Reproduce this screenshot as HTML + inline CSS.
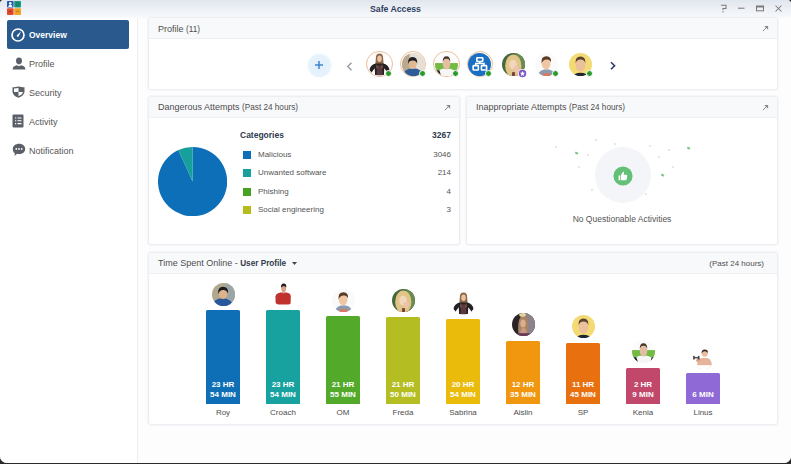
<!DOCTYPE html>
<html><head><meta charset="utf-8">
<style>
*{margin:0;padding:0;box-sizing:border-box}
html,body{width:791px;height:464px;overflow:hidden;background:#2a2a2a}
body{font-family:"Liberation Sans",sans-serif;position:relative}
.win{position:absolute;left:0;top:0;width:791px;height:463px;background:#fff;border-radius:4px 4px 7px 7px;overflow:hidden}
.title{position:absolute;left:0;top:0;width:791px;height:18px;background:linear-gradient(#e1e6ee,#f9fafc)}
.title .t{position:absolute;left:0;width:791px;top:3.5px;text-align:center;font-size:8.7px;font-weight:bold;color:#2e3e5f}
.abs{position:absolute}
.side{position:absolute;left:0;top:18px;width:138px;height:446px;background:#fff;border-right:1px solid #eceef1}
.nav{position:absolute;left:7px;width:122px;height:29px;border-radius:2px;font-size:9px;color:#555}
.nav.sel{background:#2a598d;color:#fff;font-weight:bold}
.nav .lbl{position:absolute;left:22px;top:10px}
.content{position:absolute;left:138px;top:18px;width:653px;height:446px;background:#fdfdfe}
.panel{position:absolute;background:#fff;border:1px solid #eceef1;border-radius:3px;overflow:hidden;box-shadow:0 0 1px 1px #f5f6f8}
.ph{position:absolute;left:0;top:0;right:0;height:21px;background:#f8f9fb;border-bottom:1px solid #edeff2;font-size:9px;color:#4e4e4e}
.ph .h{position:absolute;left:9px;top:5px;white-space:nowrap}
.ph .h small{font-size:8.2px}
.exp{position:absolute;right:8px;top:7px;width:7px;height:7px}
.tx{position:absolute;white-space:nowrap}
.r{text-align:right}
</style></head><body>
<div class="win">
<div class="title">
<svg class="abs" style="left:7px;top:1px" width="14" height="14" viewBox="0 0 14 14">
<rect x="0" y="0" width="6.6" height="6.6" rx="0.8" fill="#2159a9"/><rect x="7.2" y="0" width="6.8" height="6.6" rx="0.8" fill="#189a7e"/>
<rect x="0" y="7.2" width="6.6" height="6.8" rx="0.8" fill="#e2492b"/><rect x="7.2" y="7.2" width="6.8" height="6.8" rx="0.8" fill="#f0a325"/>
<circle cx="3.3" cy="2.4" r="1.3" fill="#fff"/><path d="M1.2 6 Q1.4 3.8 3.3 3.8 Q5.2 3.8 5.4 6Z" fill="#fff"/>
<circle cx="10.6" cy="3.3" r="1.6" fill="none" stroke="#0f6a52" stroke-width="0.8"/>
<path d="M1.8 10.6 H4.8" stroke="#a83018" stroke-width="1"/>
<path d="M9 11 Q10.6 9 12.2 11" fill="none" stroke="#b0701a" stroke-width="0.9"/>
</svg>
<div class="t">Safe Access</div>
<svg class="abs" style="left:718px;top:3px" width="68" height="12" viewBox="0 0 68 12" stroke="#7a7a7a" stroke-width="1.05" fill="none">
<path d="M3 2.3 H8 V5.5 H5 V7.2"/><path d="M5 8.2 V9.4"/>
<path d="M20 5.2 H26.5"/>
<rect x="38.5" y="3" width="7" height="4.8"/><path d="M38.5 3.8 H45.5" stroke-width="1.4"/>
<path d="M57.5 2.5 L63.5 8.5 M63.5 2.5 L57.5 8.5"/>
</svg></div>
<div class="side">
<div class="nav sel" style="top:2px">
<svg class="abs" style="left:4.3px;top:7.6px" width="14" height="14" viewBox="0 0 14 14">
<circle cx="7" cy="7" r="6" fill="none" stroke="#fff" stroke-width="1.7"/>
<path d="M10 3.6 L7.6 8.4 Q6.6 9.2 5.9 8.4 Q5.5 7.5 6.4 6.8Z" fill="#fff"/></svg>
<span class="lbl" style="top:10px;font-size:8.5px">Overview</span></div>
<div class="nav" style="top:31px">
<svg class="abs" style="left:5px;top:8px" width="14" height="13" viewBox="0 0 14 13">
<path d="M7 0.5 C4.8 0.5 4 2 4 3.8 C4 5.8 5 7.4 7 7.4 C9 7.4 10 5.8 10 3.8 C10 2 9.2 0.5 7 0.5Z M0.6 12.6 C0.6 9.8 2.5 8.7 5 8.3 L7 9.3 L9 8.3 C11.5 8.7 13.4 9.8 13.4 12.6Z" fill="#5b6068"/></svg>
<span class="lbl">Profile</span></div>
<div class="nav" style="top:60px">
<svg class="abs" style="left:5px;top:8px" width="13" height="12" viewBox="0 0 13 12">
<path d="M0.5 1.2 C3 1.2 4.5 0.4 6.5 0.4 C8.5 0.4 10 1.2 12.5 1.2 L12.5 5.5 C12.5 8.5 9.5 10.8 6.5 11.8 C3.5 10.8 0.5 8.5 0.5 5.5Z" fill="#5b6068"/>
<path d="M2 2.5 L6.5 2 L6.5 6 L2 6Z M6.5 6 L11 6 C10.8 7.8 9 9.2 6.5 10.2Z" fill="#fff"/></svg>
<span class="lbl">Security</span></div>
<div class="nav" style="top:89px">
<svg class="abs" style="left:5px;top:7px" width="12" height="14" viewBox="0 0 12 14">
<rect x="0.5" y="0.5" width="11" height="13" rx="1" fill="#5b6068"/>
<path d="M3 4 H4.2 M5.5 4 H9.5 M3 6.8 H4.2 M5.5 6.8 H9.5 M3 9.6 H4.2 M5.5 9.6 H9.5" stroke="#fff" stroke-width="1.1"/></svg>
<span class="lbl">Activity</span></div>
<div class="nav" style="top:118px">
<svg class="abs" style="left:5px;top:7px" width="14" height="14" viewBox="0 0 14 14">
<path d="M7 0.8 C10.5 0.8 13.2 3 13.2 5.9 C13.2 8.8 10.5 11 7 11 C6.3 11 5.6 10.9 5 10.8 L2.6 13 L2.8 10.2 C1.5 9.3 0.8 7.7 0.8 5.9 C0.8 3 3.5 0.8 7 0.8Z" fill="#5b6068"/>
<circle cx="4.3" cy="5.9" r="0.9" fill="#fff"/><circle cx="7" cy="5.9" r="0.9" fill="#fff"/><circle cx="9.7" cy="5.9" r="0.9" fill="#fff"/></svg>
<span class="lbl">Notification</span></div>
</div>
<div class="content"></div>
<div class="panel" style="left:148px;top:17px;width:630px;height:73px"><div class="ph"><span class="h" style="top:6px">Profile <small>(11)</small></span><svg class="exp" viewBox="0 0 8 8"><path d="M1 7 L6.5 1.5" stroke="#888" stroke-width="1.1"/><path d="M2.5 1 H7 V5.5Z" fill="#888"/></svg></div></div>
<div class="abs" style="left:307.5px;top:53.5px;width:23px;height:23px;border-radius:50%;background:radial-gradient(circle,#e2effb 0,#e6f2fc 60%,#eef6fd 100%);box-shadow:0 0 1.5px 0.5px #f0f7fd"></div>
<svg class="abs" style="left:315px;top:61px" width="8" height="8" viewBox="0 0 8 8"><path d="M4 0 V8 M0 4 H8" stroke="#3f86cf" stroke-width="1.5"/></svg>
<svg class="abs" style="left:345.5px;top:61.5px" width="7" height="9" viewBox="0 0 7 9"><path d="M5.5 0.8 L1.8 4.5 L5.5 8.2" fill="none" stroke="#9a9ea5" stroke-width="1.5"/></svg>
<svg class="abs" style="left:609px;top:60.5px" width="8" height="10" viewBox="0 0 8 10"><path d="M2 1.3 L5.6 4.8 L2 8.3" fill="none" stroke="#2c3a66" stroke-width="1.6"/></svg>
<div class="abs" style="left:366.0px;top:50.900000000000006px;width:26.6px;height:26.6px;border-radius:50%;border:1px solid #ecbf9c"></div>
<svg class="abs" style="left:367.8px;top:52.7px" width="23" height="23" viewBox="0 0 24 24"><defs><clipPath id="c1"><circle cx="12" cy="12" r="12"/></clipPath></defs><g clip-path="url(#c1)"><rect width="24" height="24" fill="#fff"/>
<path d="M8.2 5.5 Q8 0.6 12 0.6 Q16 0.6 15.8 5.5 L16.6 15 Q12 16.5 7.4 15Z" fill="#8e6646"/>
<ellipse cx="12" cy="6" rx="2.4" ry="3.3" fill="#e8c3a3"/>
<path d="M1.5 17.5 Q3 12 8 11 L16 11 Q21 12 22.5 17.5 L20.5 20.5 L17 16 L16.6 23 L7.4 23 L7 16 L3.5 20.5Z" fill="#252022"/>
<path d="M9.6 12 Q12 14 14.4 12 L15.2 23.2 L8.8 23.2Z" fill="#5a3840"/>
<path d="M9 11.5 L10.3 16 L8.6 16Z M15 11.5 L13.7 16 L15.4 16Z" fill="#8e6646"/></g></svg>
<div class="abs" style="left:384.8px;top:69.5px;width:7px;height:7px;border-radius:50%;background:#2a9a2c;border:1.3px solid #fff"></div>
<div class="abs" style="left:399.8px;top:50.900000000000006px;width:26.6px;height:26.6px;border-radius:50%;border:1px solid #ecbf9c"></div>
<svg class="abs" style="left:401.6px;top:52.7px" width="23" height="23" viewBox="0 0 24 24"><defs><clipPath id="c2"><circle cx="12" cy="12" r="12"/></clipPath></defs><g clip-path="url(#c2)"><rect width="24" height="24" fill="#e6dfd4"/>
<rect x="0" y="0" width="8" height="24" fill="#b8a890"/>
<ellipse cx="11.5" cy="24" rx="11" ry="8" fill="#2e5c98"/>
<ellipse cx="11" cy="11.8" rx="4.2" ry="5" fill="#e2b892"/>
<path d="M6.4 12 Q5.6 4.5 11 4.3 Q16.6 4.5 15.8 11.5 Q15 7.5 11 7.8 Q7 7.8 6.4 12Z" fill="#1c1c22"/></g></svg>
<div class="abs" style="left:418.6px;top:69.5px;width:7px;height:7px;border-radius:50%;background:#2a9a2c;border:1.3px solid #fff"></div>
<div class="abs" style="left:433.2px;top:50.900000000000006px;width:26.6px;height:26.6px;border-radius:50%;border:1px solid #ecbf9c"></div>
<svg class="abs" style="left:435.0px;top:52.7px" width="23" height="23" viewBox="0 0 24 24"><defs><clipPath id="c3"><circle cx="12" cy="12" r="12"/></clipPath></defs><g clip-path="url(#c3)"><rect width="24" height="24" fill="#fbfbfb"/>
<rect x="0" y="10.5" width="24" height="7.5" fill="#74bb45"/>
<path d="M2 24 Q3 17.5 8 16.5 L16 16.5 Q21 17.5 22 24Z" fill="#f6f6f6"/>
<path d="M0 18 L4.5 18 L6.5 24 L0 24Z M24 18 L20.5 18 L19 24 L24 24Z" fill="#1e1e1e"/>
<ellipse cx="12" cy="11.5" rx="3.9" ry="5.6" fill="#e5bea2"/>
<path d="M8.1 9.5 Q7.9 3.4 12 3.4 Q16.1 3.4 15.9 9.5 Q15 6 12 6 Q9 6 8.1 9.5Z" fill="#4b3628"/></g></svg>
<div class="abs" style="left:452.0px;top:69.5px;width:7px;height:7px;border-radius:50%;background:#2a9a2c;border:1.3px solid #fff"></div>
<div class="abs" style="left:466.5px;top:50.900000000000006px;width:26.6px;height:26.6px;border-radius:50%;border:1px solid #ecbf9c"></div>
<svg class="abs" style="left:468.3px;top:52.7px" width="23" height="23" viewBox="0 0 24 24"><defs><clipPath id="c4"><circle cx="12" cy="12" r="12"/></clipPath></defs><g clip-path="url(#c4)"><rect width="24" height="24" fill="#1b6fc3"/>
<g fill="none" stroke="#fff" stroke-width="1.7">
<rect x="9.2" y="4.9" width="6.2" height="4" rx="0.7"/>
<rect x="5.4" y="13.2" width="5.4" height="4.6" rx="0.7"/>
<rect x="14" y="13.2" width="5.4" height="4.6" rx="0.7"/>
<path d="M12.3 8.9 V11 M8.1 13.2 V11 H16.7 V13.2"/></g></g></svg>
<div class="abs" style="left:485.3px;top:69.5px;width:7px;height:7px;border-radius:50%;background:#2a9a2c;border:1.3px solid #fff"></div>
<svg class="abs" style="left:501.9px;top:52.7px" width="23" height="23" viewBox="0 0 24 24"><defs><clipPath id="c5"><circle cx="12" cy="12" r="12"/></clipPath></defs><g clip-path="url(#c5)"><rect width="24" height="24" fill="#46683a"/>
<rect x="15" y="0" width="9" height="24" fill="#6a8a50"/>
<ellipse cx="11.8" cy="13.5" rx="8.5" ry="12" fill="#e0c488"/>
<ellipse cx="11.5" cy="12" rx="4" ry="5" fill="#f2d6bb"/>
<ellipse cx="14.8" cy="16.5" rx="2.8" ry="3.4" fill="#ecc4ae"/>
<rect x="10.5" y="20" width="3" height="4" fill="#7a3a3a"/></g></svg>
<svg class="abs" style="left:517.9px;top:68.7px" width="9" height="9" viewBox="0 0 9 9"><circle cx="4.5" cy="4.5" r="4.1" fill="#7a55c8" stroke="#fff" stroke-width="0.8"/><path d="M4.5 1.9 L5.3 3.7 L7.1 3.8 L5.7 5 L6.2 6.9 L4.5 5.9 L2.8 6.9 L3.3 5 L1.9 3.8 L3.7 3.7Z" fill="#fff"/></svg>
<svg class="abs" style="left:534.8px;top:53.0px" width="23" height="23" viewBox="0 0 24 24"><defs><clipPath id="c6"><circle cx="12" cy="12" r="12"/></clipPath></defs><g clip-path="url(#c6)"><rect width="24" height="24" fill="#fafafb"/>
<path d="M3 24 Q4 17 12 17 Q20 17 21 24Z" fill="#8c9ab0"/>
<path d="M8 21 L16 21 L16 24 L8 24Z" fill="#d97860"/>
<ellipse cx="11.6" cy="11.5" rx="4.5" ry="5.6" fill="#efc6a4"/>
<path d="M6.8 11 Q6 3.5 12 3.4 Q17.5 3.5 16.6 10 Q15.5 6.5 12 6.8 Q8.5 6.8 6.8 11Z" fill="#5a3a22"/></g></svg>
<div class="abs" style="left:551.8px;top:69.8px;width:7px;height:7px;border-radius:50%;background:#2a9a2c;border:1.3px solid #fff"></div>
<svg class="abs" style="left:568.9px;top:52.900000000000006px" width="23" height="23" viewBox="0 0 24 24"><defs><clipPath id="c7"><circle cx="12" cy="12" r="12"/></clipPath></defs><g clip-path="url(#c7)"><rect width="24" height="24" fill="#f3da74"/>
<ellipse cx="12" cy="25" rx="8" ry="4.5" fill="#1f2634"/>
<ellipse cx="12" cy="12.5" rx="5" ry="6.8" fill="#ebc09c"/>
<path d="M6.8 11 Q6.3 3.5 12 3.6 Q17.5 3.5 17.2 11 Q16 6.8 12 6.8 Q8 6.8 6.8 11Z" fill="#5b4232"/></g></svg>
<div class="abs" style="left:585.9px;top:69.7px;width:7px;height:7px;border-radius:50%;background:#2a9a2c;border:1.3px solid #fff"></div>
<div class="panel" style="left:148px;top:96px;width:312px;height:149px"><div class="ph"><span class="h">Dangerous Attempts <small>(Past 24 hours)</small></span><svg class="exp" viewBox="0 0 8 8"><path d="M1 7 L6.5 1.5" stroke="#888" stroke-width="1.1"/><path d="M2.5 1 H7 V5.5Z" fill="#888"/></svg></div></div>
<svg class="abs" style="left:158.1px;top:146.8px" width="69.2" height="69.2" viewBox="0 0 69.2 69.2"><path d="M34.6 34.6 L34.600 0.000 A34.6 34.6 0 1 1 20.333 3.079Z" fill="#0c6fb8"/><path d="M34.6 34.6 L20.333 3.079 A34.6 34.6 0 0 1 34.600 0.000Z" fill="#17a09b"/></svg>
<div class="tx" style="left:240px;top:130px;font-size:8.5px;font-weight:bold;color:#303b50">Categories</div>
<div class="tx r" style="left:400px;width:51px;top:130px;font-size:8.5px;font-weight:bold;color:#303b50">3267</div>
<div class="abs" style="left:243px;top:151.0px;width:8px;height:8px;background:#0c6fb8"></div>
<div class="tx" style="left:258px;top:150.0px;font-size:8px;color:#555">Malicious</div>
<div class="tx r" style="left:400px;width:51px;top:150.0px;font-size:8px;color:#555">3046</div>
<div class="abs" style="left:243px;top:169.4px;width:8px;height:8px;background:#17a09b"></div>
<div class="tx" style="left:258px;top:168.4px;font-size:8px;color:#555">Unwanted software</div>
<div class="tx r" style="left:400px;width:51px;top:168.4px;font-size:8px;color:#555">214</div>
<div class="abs" style="left:243px;top:187.8px;width:8px;height:8px;background:#46a322"></div>
<div class="tx" style="left:258px;top:186.8px;font-size:8px;color:#555">Phishing</div>
<div class="tx r" style="left:400px;width:51px;top:186.8px;font-size:8px;color:#555">4</div>
<div class="abs" style="left:243px;top:206.2px;width:8px;height:8px;background:#b6bc1c"></div>
<div class="tx" style="left:258px;top:205.2px;font-size:8px;color:#555">Social engineering</div>
<div class="tx r" style="left:400px;width:51px;top:205.2px;font-size:8px;color:#555">3</div>
<div class="panel" style="left:466px;top:96px;width:312px;height:149px"><div class="ph"><span class="h">Inappropriate Attempts <small>(Past 24 hours)</small></span><svg class="exp" viewBox="0 0 8 8"><path d="M1 7 L6.5 1.5" stroke="#888" stroke-width="1.1"/><path d="M2.5 1 H7 V5.5Z" fill="#888"/></svg></div></div>
<div class="abs" style="left:594.5px;top:147px;width:56px;height:56px;border-radius:50%;background:#f4f5f8"></div>
<svg class="abs" style="left:612.5px;top:166px" width="20" height="20" viewBox="0 0 20 20"><circle cx="10" cy="10" r="9.6" fill="#63c076"/>
<path d="M5.6 9.4 H7.1 V14.2 H5.6Z M7.8 9.4 L9.9 5.8 Q11 5.4 11.1 6.6 L10.7 8.8 H13.6 Q14.5 9 14.3 9.9 L13.6 13.4 Q13.3 14.2 12.5 14.2 H7.8Z" fill="#fff"/></svg>
<div class="abs" style="left:574.8px;top:151.60000000000002px;width:3px;height:2.4px;background:#79c488;transform:rotate(30deg)"></div>
<div class="abs" style="left:686.9px;top:147.3px;width:3px;height:2.4px;background:#79c488;transform:rotate(30deg)"></div>
<div class="abs" style="left:660.7px;top:173.8px;width:3px;height:2.4px;background:#79c488;transform:rotate(30deg)"></div>
<div class="abs" style="left:555px;top:146px;width:2px;height:2px;background:#e6e7ea"></div>
<div class="abs" style="left:595px;top:139px;width:2px;height:2px;background:#e6e7ea"></div>
<div class="abs" style="left:614px;top:143.4px;width:2px;height:2px;background:#e6e7ea"></div>
<div class="abs" style="left:586.6px;top:154px;width:2px;height:2px;background:#e6e7ea"></div>
<div class="abs" style="left:578px;top:165.6px;width:2px;height:2px;background:#e6e7ea"></div>
<div class="abs" style="left:649px;top:144.6px;width:2px;height:2px;background:#e6e7ea"></div>
<div class="abs" style="left:668px;top:149px;width:2px;height:2px;background:#e6e7ea"></div>
<div class="abs" style="left:657.7px;top:156px;width:2px;height:2px;background:#e6e7ea"></div>
<div class="abs" style="left:672px;top:165.6px;width:2px;height:2px;background:#e6e7ea"></div>
<div class="abs" style="left:590.8px;top:189px;width:2px;height:2px;background:#e6e7ea"></div>
<div class="abs" style="left:645px;top:192.8px;width:2px;height:2px;background:#e6e7ea"></div>
<div class="tx" style="left:522px;width:200px;text-align:center;top:213.5px;font-size:8.5px;color:#555">No Questionable Activities</div>
<div class="panel" style="left:148px;top:252px;width:630px;height:173px"><div class="ph"><span class="h">Time Spent Online - <b style="color:#333c4c;font-size:8.2px">User Profile</b></span><svg class="abs" style="left:143px;top:9px" width="5" height="4" viewBox="0 0 5 4"><path d="M0 0 H5 L2.5 3Z" fill="#444"/></svg><span class="abs" style="right:13px;top:6px;font-size:8px">(Past 24 hours)</span></div></div>
<div class="abs" style="left:206px;top:310px;width:34px;height:94px;background:#0f6fb6;border-radius:1.5px 1.5px 0 0"></div>
<div class="tx" style="left:193px;width:60px;text-align:center;top:380px;font-size:8px;font-weight:bold;color:#fff">23 HR</div>
<div class="tx" style="left:193px;width:60px;text-align:center;top:390px;font-size:8px;font-weight:bold;color:#fff">54 MIN</div>
<div class="tx" style="left:193px;width:60px;text-align:center;top:408px;font-size:8px;color:#4d4d4d">Roy</div>
<svg class="abs" style="left:211.9px;top:282.5px" width="23" height="23" viewBox="0 0 24 24"><defs><clipPath id="c8"><circle cx="12" cy="12" r="12"/></clipPath></defs><g clip-path="url(#c8)"><rect width="24" height="24" fill="#b2a88e"/>
<rect x="14" y="0" width="10" height="24" fill="#9aa6a4"/>
<ellipse cx="11" cy="24" rx="11" ry="8" fill="#28589c"/>
<ellipse cx="11.5" cy="11.5" rx="4.5" ry="5.3" fill="#dfb28c"/>
<path d="M6.5 12 Q5.5 4 11.5 4 Q17.5 4 16.5 11 Q15.5 7 11.5 7.2 Q7.5 7.2 6.5 12Z" fill="#1b1b20"/></g></svg>
<div class="abs" style="left:266px;top:310px;width:34px;height:94px;background:#17a19f;border-radius:1.5px 1.5px 0 0"></div>
<div class="tx" style="left:253px;width:60px;text-align:center;top:380px;font-size:8px;font-weight:bold;color:#fff">23 HR</div>
<div class="tx" style="left:253px;width:60px;text-align:center;top:390px;font-size:8px;font-weight:bold;color:#fff">54 MIN</div>
<div class="tx" style="left:253px;width:60px;text-align:center;top:408px;font-size:8px;color:#4d4d4d">Croach</div>
<svg class="abs" style="left:271.9px;top:282.5px" width="23" height="23" viewBox="0 0 24 24"><defs><clipPath id="c9"><circle cx="12" cy="12" r="12"/></clipPath></defs><g clip-path="url(#c9)"><rect width="24" height="24" fill="#fff"/>
<path d="M3.6 14 Q4.5 10.5 9 10 L15 10 Q19.5 10.5 19.6 14 L19.4 22.5 L3.8 22.5Z" fill="#c0322e"/>
<path d="M10 10 Q12 12 14 10Z" fill="#d89c82"/>
<ellipse cx="12.2" cy="5.6" rx="2.6" ry="4" fill="#d6a386"/>
<path d="M9.4 5 Q9.2 0.6 12.3 0.6 Q15.2 0.6 15 4.8 Q14 3.2 12.3 3.2 Q10.6 3.2 9.4 5Z" fill="#231a1a"/></g></svg>
<div class="abs" style="left:326px;top:316px;width:34px;height:88px;background:#53a929;border-radius:1.5px 1.5px 0 0"></div>
<div class="tx" style="left:313px;width:60px;text-align:center;top:380px;font-size:8px;font-weight:bold;color:#fff">21 HR</div>
<div class="tx" style="left:313px;width:60px;text-align:center;top:390px;font-size:8px;font-weight:bold;color:#fff">55 MIN</div>
<div class="tx" style="left:313px;width:60px;text-align:center;top:408px;font-size:8px;color:#4d4d4d">OM</div>
<svg class="abs" style="left:331.9px;top:288.5px" width="23" height="23" viewBox="0 0 24 24"><defs><clipPath id="c10"><circle cx="12" cy="12" r="12"/></clipPath></defs><g clip-path="url(#c10)"><rect width="24" height="24" fill="#fafafb"/>
<path d="M3 24 Q4 17 12 17 Q20 17 21 24Z" fill="#8c9ab0"/>
<path d="M8 21 L16 21 L16 24 L8 24Z" fill="#d97860"/>
<ellipse cx="11.6" cy="11.5" rx="4.5" ry="5.6" fill="#efc6a4"/>
<path d="M6.8 11 Q6 3.5 12 3.4 Q17.5 3.5 16.6 10 Q15.5 6.5 12 6.8 Q8.5 6.8 6.8 11Z" fill="#5a3a22"/></g></svg>
<div class="abs" style="left:386px;top:316.5px;width:34px;height:87.5px;background:#b4be22;border-radius:1.5px 1.5px 0 0"></div>
<div class="tx" style="left:373px;width:60px;text-align:center;top:380px;font-size:8px;font-weight:bold;color:#fff">21 HR</div>
<div class="tx" style="left:373px;width:60px;text-align:center;top:390px;font-size:8px;font-weight:bold;color:#fff">50 MIN</div>
<div class="tx" style="left:373px;width:60px;text-align:center;top:408px;font-size:8px;color:#4d4d4d">Freda</div>
<svg class="abs" style="left:391.9px;top:289.0px" width="23" height="23" viewBox="0 0 24 24"><defs><clipPath id="c11"><circle cx="12" cy="12" r="12"/></clipPath></defs><g clip-path="url(#c11)"><rect width="24" height="24" fill="#46683a"/>
<rect x="15" y="0" width="9" height="24" fill="#6a8a50"/>
<ellipse cx="11.8" cy="13.5" rx="8.5" ry="12" fill="#e0c488"/>
<ellipse cx="11.5" cy="12" rx="4" ry="5" fill="#f2d6bb"/>
<ellipse cx="14.8" cy="16.5" rx="2.8" ry="3.4" fill="#ecc4ae"/>
<rect x="10.5" y="20" width="3" height="4" fill="#7a3a3a"/></g></svg>
<div class="abs" style="left:446px;top:319px;width:34px;height:85px;background:#ebbb0b;border-radius:1.5px 1.5px 0 0"></div>
<div class="tx" style="left:433px;width:60px;text-align:center;top:380px;font-size:8px;font-weight:bold;color:#fff">20 HR</div>
<div class="tx" style="left:433px;width:60px;text-align:center;top:390px;font-size:8px;font-weight:bold;color:#fff">54 MIN</div>
<div class="tx" style="left:433px;width:60px;text-align:center;top:408px;font-size:8px;color:#4d4d4d">Sabrina</div>
<svg class="abs" style="left:451.9px;top:291.5px" width="23" height="23" viewBox="0 0 24 24"><defs><clipPath id="c12"><circle cx="12" cy="12" r="12"/></clipPath></defs><g clip-path="url(#c12)"><rect width="24" height="24" fill="#fff"/>
<path d="M8.2 5.5 Q8 0.6 12 0.6 Q16 0.6 15.8 5.5 L16.6 15 Q12 16.5 7.4 15Z" fill="#8e6646"/>
<ellipse cx="12" cy="6" rx="2.4" ry="3.3" fill="#e8c3a3"/>
<path d="M1.5 17.5 Q3 12 8 11 L16 11 Q21 12 22.5 17.5 L20.5 20.5 L17 16 L16.6 23 L7.4 23 L7 16 L3.5 20.5Z" fill="#252022"/>
<path d="M9.6 12 Q12 14 14.4 12 L15.2 23.2 L8.8 23.2Z" fill="#5a3840"/>
<path d="M9 11.5 L10.3 16 L8.6 16Z M15 11.5 L13.7 16 L15.4 16Z" fill="#8e6646"/></g></svg>
<div class="abs" style="left:506px;top:340.5px;width:34px;height:63.5px;background:#f0960f;border-radius:1.5px 1.5px 0 0"></div>
<div class="tx" style="left:493px;width:60px;text-align:center;top:380px;font-size:8px;font-weight:bold;color:#fff">12 HR</div>
<div class="tx" style="left:493px;width:60px;text-align:center;top:390px;font-size:8px;font-weight:bold;color:#fff">35 MIN</div>
<div class="tx" style="left:493px;width:60px;text-align:center;top:408px;font-size:8px;color:#4d4d4d">Aislin</div>
<svg class="abs" style="left:511.9px;top:313.0px" width="23" height="23" viewBox="0 0 24 24"><defs><clipPath id="c13"><circle cx="12" cy="12" r="12"/></clipPath></defs><g clip-path="url(#c13)"><rect width="24" height="24" fill="#2b2328"/>
<path d="M13 0 L24 0 L24 24 L15 24 Q17 12 13 0Z" fill="#8d838a"/>
<path d="M7 24 Q5 10 9 4 Q12 1 15 4 Q18 10 16 24Z" fill="#a88462"/>
<ellipse cx="11.5" cy="11" rx="2.8" ry="4.2" fill="#dcae8e"/>
<path d="M8.5 24 Q8.5 16 12 15.5 Q15.5 16 15.5 24Z" fill="#c99888"/>
<rect x="6" y="21" width="12" height="3" fill="#6a3a5a"/>
<ellipse cx="11" cy="1.8" rx="3.5" ry="2.2" fill="#e6d49a"/></g></svg>
<div class="abs" style="left:566px;top:342.5px;width:34px;height:61.5px;background:#e9700f;border-radius:1.5px 1.5px 0 0"></div>
<div class="tx" style="left:553px;width:60px;text-align:center;top:380px;font-size:8px;font-weight:bold;color:#fff">11 HR</div>
<div class="tx" style="left:553px;width:60px;text-align:center;top:390px;font-size:8px;font-weight:bold;color:#fff">45 MIN</div>
<div class="tx" style="left:553px;width:60px;text-align:center;top:408px;font-size:8px;color:#4d4d4d">SP</div>
<svg class="abs" style="left:571.9px;top:315.0px" width="23" height="23" viewBox="0 0 24 24"><defs><clipPath id="c14"><circle cx="12" cy="12" r="12"/></clipPath></defs><g clip-path="url(#c14)"><rect width="24" height="24" fill="#f3da74"/>
<ellipse cx="12" cy="25" rx="8" ry="4.5" fill="#1f2634"/>
<ellipse cx="12" cy="12.5" rx="5" ry="6.8" fill="#ebc09c"/>
<path d="M6.8 11 Q6.3 3.5 12 3.6 Q17.5 3.5 17.2 11 Q16 6.8 12 6.8 Q8 6.8 6.8 11Z" fill="#5b4232"/></g></svg>
<div class="abs" style="left:626px;top:367.5px;width:34px;height:36.5px;background:#c1476b;border-radius:1.5px 1.5px 0 0"></div>
<div class="tx" style="left:613px;width:60px;text-align:center;top:380px;font-size:8px;font-weight:bold;color:#fff">2 HR</div>
<div class="tx" style="left:613px;width:60px;text-align:center;top:390px;font-size:8px;font-weight:bold;color:#fff">9 MIN</div>
<div class="tx" style="left:613px;width:60px;text-align:center;top:408px;font-size:8px;color:#4d4d4d">Kenia</div>
<svg class="abs" style="left:631.9px;top:340.0px" width="23" height="23" viewBox="0 0 24 24"><defs><clipPath id="c15"><circle cx="12" cy="12" r="12"/></clipPath></defs><g clip-path="url(#c15)"><rect width="24" height="24" fill="#fbfbfb"/>
<rect x="0" y="10.5" width="24" height="7.5" fill="#74bb45"/>
<path d="M2 24 Q3 17.5 8 16.5 L16 16.5 Q21 17.5 22 24Z" fill="#f6f6f6"/>
<path d="M0 18 L4.5 18 L6.5 24 L0 24Z M24 18 L20.5 18 L19 24 L24 24Z" fill="#1e1e1e"/>
<ellipse cx="12" cy="11.5" rx="3.9" ry="5.6" fill="#e5bea2"/>
<path d="M8.1 9.5 Q7.9 3.4 12 3.4 Q16.1 3.4 15.9 9.5 Q15 6 12 6 Q9 6 8.1 9.5Z" fill="#4b3628"/></g></svg>
<div class="abs" style="left:686px;top:373px;width:34px;height:31px;background:#8f69d5;border-radius:1.5px 1.5px 0 0"></div>
<div class="tx" style="left:673px;width:60px;text-align:center;top:390px;font-size:8px;font-weight:bold;color:#fff">6 MIN</div>
<div class="tx" style="left:673px;width:60px;text-align:center;top:408px;font-size:8px;color:#4d4d4d">Linus</div>
<svg class="abs" style="left:691.9px;top:345.5px" width="23" height="23" viewBox="0 0 24 24"><defs><clipPath id="c16"><circle cx="12" cy="12" r="12"/></clipPath></defs><g clip-path="url(#c16)"><rect width="24" height="24" fill="#fff"/>
<path d="M5.5 24 Q4.5 14.5 9.5 12.5 L16.5 12.5 Q21.5 14.5 20.5 24Z" fill="#e6b49a"/>
<path d="M4 15.5 Q5 12 8 12.5 L9 15 Q7 16 6 17Z" fill="#dca68c"/>
<ellipse cx="13.3" cy="7.6" rx="3.2" ry="3.7" fill="#e9bda1"/>
<path d="M10 7.8 Q9.8 3.6 13.3 3.6 Q16.8 3.6 16.6 7.2 Q15 5.4 13.3 5.6 Q11.2 5.6 10 7.8Z" fill="#3b2b22"/>
<rect x="2" y="11.4" width="5" height="1.6" fill="#555"/>
<rect x="1.2" y="10.3" width="1.6" height="3.8" fill="#444"/>
<rect x="6.2" y="10.3" width="1.6" height="3.8" fill="#444"/>
<rect x="0" y="20" width="24" height="4" fill="#fff"/></g></svg>
</div></body></html>
